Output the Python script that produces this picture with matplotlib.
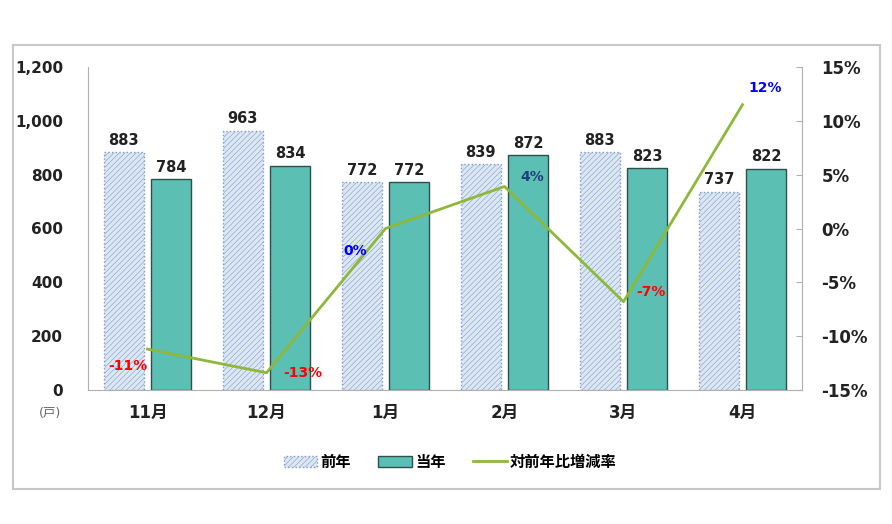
import numpy as np
import matplotlib.pyplot as plt
from matplotlib.patches import Rectangle, Patch
from matplotlib.lines import Line2D

plt.rcParams['font.family'] = ['DejaVu Sans', 'Noto Sans CJK JP']
plt.rcParams['hatch.color'] = '#c8d5ea'
plt.rcParams['hatch.linewidth'] = 0.4

months = ['11月', '12月', '1月', '2月', '3月', '4月']
prev_year = [883, 963, 772, 839, 883, 737]
this_year = [784, 834, 772, 872, 823, 822]
rate = [-11.2, -13.4, 0.0, 3.9, -6.8, 11.5]
rate_labels = ['-11%', '-13%', '0%', '4%', '-7%', '12%']
rate_colors = ['red', 'red', 'blue', '#1f3f7a', 'red', 'blue']
rate_offsets = [(-14, -12), (26, 0), (-22, -16), (20, 7), (20, 7), (16, 12)]

fig = plt.figure(figsize=(8.92, 5.24), dpi=100)
fig.add_artist(Rectangle((13 / 892, 1 - 489 / 524), 867 / 892, 444 / 524,
                         transform=fig.transFigure, fill=False,
                         edgecolor='#c8c8c8', linewidth=1.5))

ax = fig.add_axes([88 / 892, 1 - 390 / 524, 714 / 892, 323 / 524])
x = np.arange(len(months))
w = 0.335

ax.bar(x - 0.2, prev_year, w, color='#dde7f3', edgecolor='#7e9cc9',
       linewidth=1, linestyle=':', hatch='//////')
ax.bar(x + 0.2, this_year, w, color='#5cbfb4', edgecolor='#2f4f4a',
       linewidth=1)

for xi, v in zip(x - 0.2, prev_year):
    ax.text(xi, v + 16, f'{v}', ha='center', va='bottom', fontsize=10.5,
            fontweight='bold', color='#222222')
for xi, v in zip(x + 0.2, this_year):
    ax.text(xi, v + 16, f'{v}', ha='center', va='bottom', fontsize=10.5,
            fontweight='bold', color='#222222')

ax.set_xlim(-0.5, 5.5)
ax.set_ylim(0, 1200)
ax.set_yticks(range(0, 1201, 200))
ax.set_yticklabels([f'{t:,}' for t in range(0, 1201, 200)], fontsize=11,
                   fontweight='bold', color='#222222')
ax.set_xticks(x)
ax.set_xticklabels(months, fontsize=12, fontweight='bold', color='#222222')
ax.tick_params(axis='y', length=0, pad=18)
ax.tick_params(axis='x', length=0, pad=10)
for s in ['top', 'right']:
    ax.spines[s].set_visible(False)
ax.spines['left'].set_color('#b0b0b0')
ax.spines['bottom'].set_color('#b0b0b0')

ax2 = ax.twinx()
ax2.plot(x, rate, color='#8db83a', linewidth=2)
ax2.set_ylim(-15, 15)
ax2.set_yticks(range(-15, 16, 5))
ax2.set_yticklabels([f'{t}%' for t in range(-15, 16, 5)], fontsize=12,
                    fontweight='bold', color='#222222')
ax2.tick_params(axis='y', direction='in', length=4, color='#b0b0b0', pad=14)
for s in ['top', 'left', 'bottom']:
    ax2.spines[s].set_visible(False)
ax2.spines['right'].set_color('#b0b0b0')

for xi, r, lab, c, off in zip(x, rate, rate_labels, rate_colors, rate_offsets):
    ax2.annotate(lab, (xi, r), xytext=off, textcoords='offset points',
                 ha='center', va='center', fontsize=10, fontweight='bold',
                 color=c)

fig.text(50 / 892, 1 - 413 / 524, '(戸)', fontsize=9, color='#666666',
         ha='center', va='center')

handles = [Patch(facecolor='#dde7f3', edgecolor='#7e9cc9', hatch='//////',
                 linestyle=':'),
           Patch(facecolor='#5cbfb4', edgecolor='#2f4f4a'),
           Line2D([0], [0], color='#8db83a', linewidth=2)]
fig.legend(handles, ['前年', '当年', '対前年比増減率'], loc='center',
           bbox_to_anchor=(450 / 892, 1 - 462 / 524), ncol=3, frameon=False,
           prop={'size': 11, 'weight': 'bold'}, handlelength=2.2,
           handleheight=0.7, columnspacing=1.8, handletextpad=0.2)

fig.savefig('out.png', dpi=100)
